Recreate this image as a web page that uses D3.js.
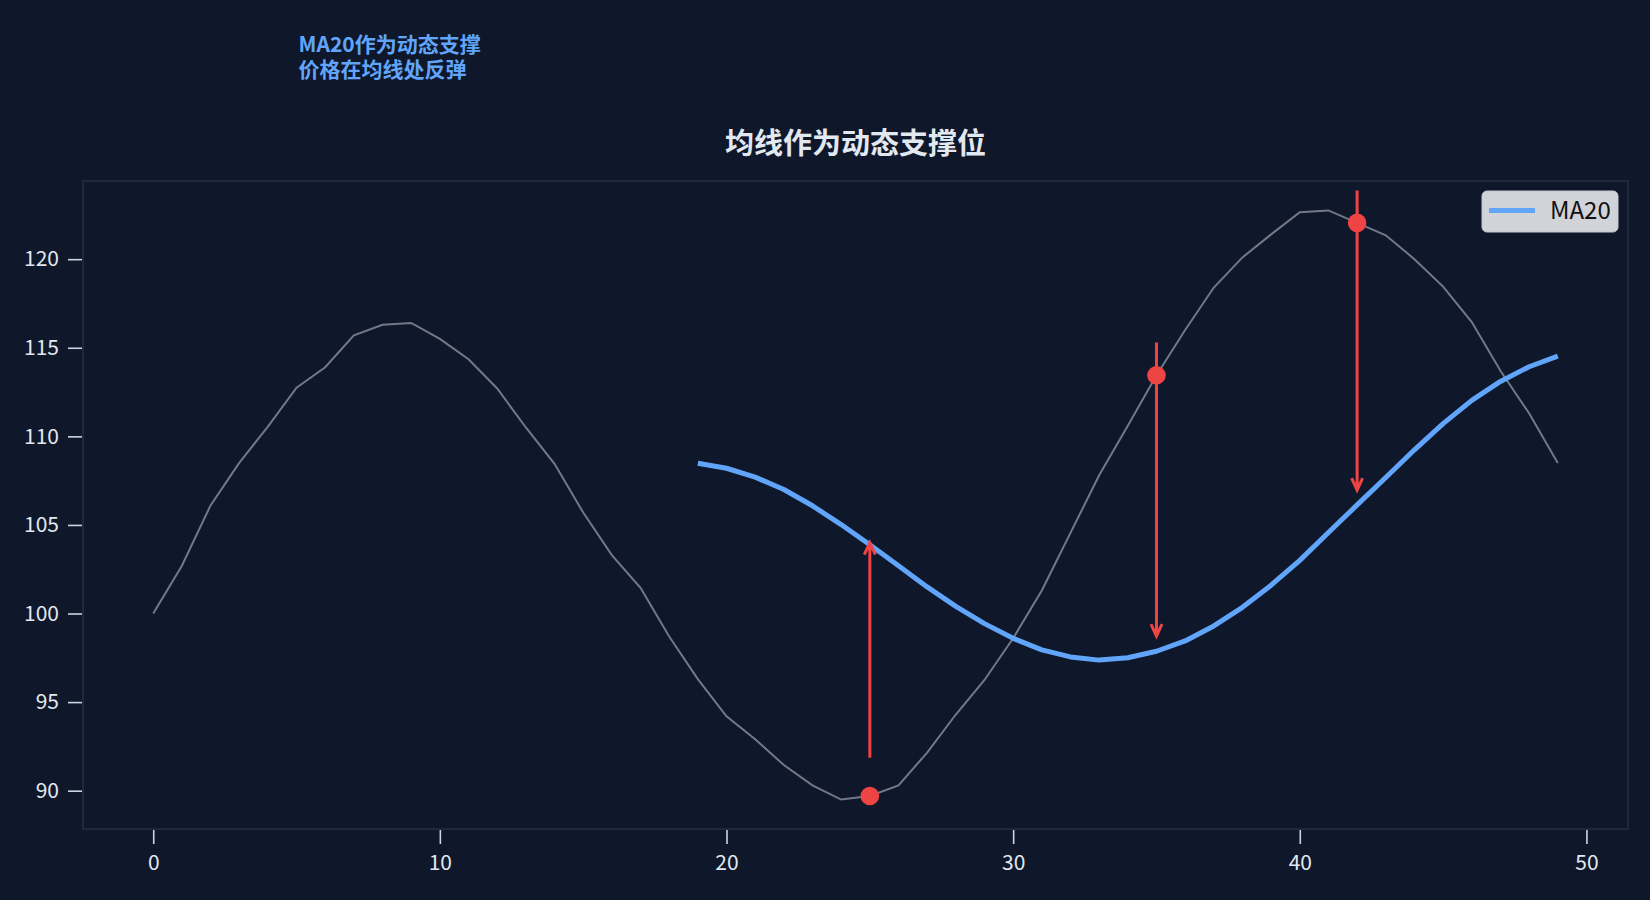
<!DOCTYPE html>
<html>
<head>
<meta charset="utf-8">
<script src="https://cdn.jsdelivr.net/npm/d3@7"></script>
<style>
  body { margin: 0; background: #0f172a; }
  text { font-family: "Noto Sans CJK SC", "Noto Sans", sans-serif; }
</style>
</head>
<body>
<div id="chart"></div>
<script>
// Price series (day 0..49)
const days = d3.range(50);
const price = [
  100.0, 102.7, 106.1, 108.5, 110.55, 112.75, 113.9, 115.7, 116.3, 116.4,
  115.5, 114.35, 112.7, 110.5, 108.45, 105.7, 103.3, 101.45, 98.7, 96.3,
  94.2, 92.9, 91.45, 90.3, 89.5, 89.7, 90.3, 92.15, 94.3, 96.25,
  98.6, 101.3, 104.55, 107.8, 110.6, 113.45, 116.0, 118.4, 120.1, 121.4,
  122.65, 122.75, 122.05, 121.35, 120.0, 118.45, 116.45, 113.7, 111.3, 108.5
];

// MA20, undefined for the first 19 days
const ma20 = [
  null, null, null, null, null, null, null, null, null, null,
  null, null, null, null, null, null, null, null, null, 108.48,
  108.2, 107.7, 107.0, 106.08, 105.02, 103.88, 102.7, 101.5, 100.4, 99.43,
  98.6, 97.95, 97.55, 97.37, 97.5, 97.87, 98.45, 99.3, 100.35, 101.6,
  103.0, 104.57, 106.13, 107.68, 109.24, 110.72, 112.03, 113.1, 113.93, 114.53
];

// support touch points and arrows (from / to in price units)
const touchDays = [25, 35, 42];
const arrowFrom = [91.86, 115.30, 123.88];
const arrowTo = [104.0, 98.72, 106.96];

const xTicks = [0, 10, 20, 30, 40, 50];
const yTicks = [90, 95, 100, 105, 110, 115, 120];

const titleText = "均线作为动态支撑位";
const noteLines = ["MA20作为动态支撑", "价格在均线处反弹"];
const noteAt = { day: 5, value: 130 };

const W = 1650, H = 900;
const margin = { top: 181, right: 22, bottom: 71, left: 83 };
const width = W - margin.left - margin.right;
const height = H - margin.top - margin.bottom;

const svg = d3.select("#chart").append("svg")
    .attr("width", W)
    .attr("height", H)
    .style("background", "#0f172a");

const g = svg.append("g")
    .attr("transform", `translate(${margin.left},${margin.top})`);

// matplotlib-like 5% padding on both axes
const xPad = (d3.max(days) - d3.min(days)) * 0.05;
const x = d3.scaleLinear()
    .domain([d3.min(days) - xPad, d3.max(days) + xPad])
    .range([0, width]);

const [pMin, pMax] = d3.extent(price);
const yPad = (pMax - pMin) * 0.05;
const y = d3.scaleLinear()
    .domain([pMin - yPad, pMax + yPad])
    .range([height, 0]);

// axes
const xAxis = g.append("g")
    .attr("transform", `translate(0,${height})`)
    .call(d3.axisBottom(x).tickValues(xTicks).tickSize(15).tickPadding(11));

const yAxis = g.append("g")
    .call(d3.axisLeft(y).tickValues(yTicks).tickSize(15).tickPadding(9));

[xAxis, yAxis].forEach(a => {
    a.select(".domain").remove();
    a.selectAll(".tick line").attr("stroke", "#cbd5e1").attr("stroke-width", 1.6);
    a.selectAll(".tick text")
        .attr("fill", "#e2e8f0")
        .style("font-size", "21px");
});

// frame
g.append("rect")
    .attr("width", width)
    .attr("height", height)
    .attr("fill", "none")
    .attr("stroke", "#1e293b")
    .attr("stroke-width", 2);

// price line
const priceLine = d3.line()
    .x((d, i) => x(days[i]))
    .y(d => y(d));

g.append("path")
    .datum(price)
    .attr("fill", "none")
    .attr("stroke", "#9ca3af")
    .attr("stroke-opacity", 0.7)
    .attr("stroke-width", 2)
    .attr("d", priceLine);

// MA20 line
const maLine = d3.line()
    .defined(d => d != null)
    .x((d, i) => x(days[i]))
    .y(d => y(d));

g.append("path")
    .datum(ma20)
    .attr("fill", "none")
    .attr("stroke", "#60a5fa")
    .attr("stroke-width", 5)
    .attr("stroke-linejoin", "round")
    .attr("d", maLine);

// arrows ("->" style)
const headLen = 12, headHalf = 5.5;
touchDays.forEach((day, k) => {
    const px = x(day);
    const y0 = y(arrowFrom[k]);
    const y1 = y(arrowTo[k]);
    const dir = y1 > y0 ? 1 : -1;
    g.append("path")
        .attr("d", `M${px},${y0}L${px},${y1}` +
            `M${px - headHalf},${y1 - dir * headLen}L${px},${y1}L${px + headHalf},${y1 - dir * headLen}`)
        .attr("fill", "none")
        .attr("stroke", "#ef4444")
        .attr("stroke-width", 3)
        .attr("stroke-linejoin", "miter");
});

// touch dots
g.selectAll(".touch")
    .data(touchDays)
    .enter().append("circle")
    .attr("class", "touch")
    .attr("cx", d => x(d))
    .attr("cy", d => y(price[d]))
    .attr("r", 9.3)
    .attr("fill", "#ef4444");

// legend
const legend = g.append("g")
    .attr("transform", `translate(${width - 146},10)`);

legend.append("rect")
    .attr("width", 136)
    .attr("height", 41)
    .attr("rx", 5)
    .attr("fill", "#d1d3d8")
    .attr("stroke", "#c4c7cc");

legend.append("line")
    .attr("x1", 7).attr("x2", 53)
    .attr("y1", 19.5).attr("y2", 19.5)
    .attr("stroke", "#60a5fa")
    .attr("stroke-width", 5);

legend.append("text")
    .attr("x", 68)
    .attr("y", 27.5)
    .attr("fill", "#111111")
    .style("font-size", "24px")
    .text("MA20");

// title
svg.append("text")
    .attr("x", margin.left + width / 2)
    .attr("y", 141)
    .attr("text-anchor", "middle")
    .attr("dominant-baseline", "central")
    .attr("fill", "#e2e8f0")
    .style("font-size", "29px")
    .style("font-weight", "bold")
    .text(titleText);

// annotation in data coordinates (bottom-left anchored)
const note = g.append("text")
    .attr("x", x(noteAt.day) + 2)
    .attr("y", y(noteAt.value) - 5)
    .attr("fill", "#60a5fa")
    .style("font-size", "21px")
    .style("font-weight", "bold");

noteLines.forEach((t, i) => {
    note.append("tspan")
        .attr("x", x(noteAt.day) + 2)
        .attr("dy", i === 0 ? -25.5 : 25.5)
        .text(t);
});
</script>
</body>
</html>
